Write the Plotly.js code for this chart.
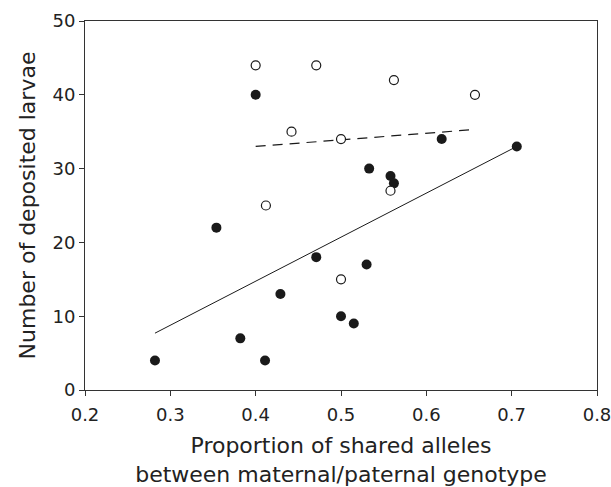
<!DOCTYPE html>
<html>
<head>
<meta charset="utf-8">
<script src="https://cdn.plot.ly/plotly-3.0.1.min.js"></script>
<style>html,body{margin:0;padding:0;background:#fff;}#chart{width:611px;height:487px;}</style>
</head>
<body>
<div id="chart"></div>
<script>
// Filled circles
var filledX = [0.282, 0.354, 0.382, 0.400, 0.411, 0.429, 0.471, 0.500, 0.515, 0.530, 0.533, 0.558, 0.562, 0.618, 0.706];
var filledY = [4, 22, 7, 40, 4, 13, 18, 10, 9, 17, 30, 29, 28, 34, 33];
// Open circles
var openX = [0.400, 0.471, 0.562, 0.657, 0.442, 0.500, 0.412, 0.558, 0.500];
var openY = [44, 44, 42, 40, 35, 34, 25, 27, 15];
// Regression lines (endpoints)
var solidLineX = [0.282, 0.706];
var solidLineY = [7.7, 33.0];
var dashLineX = [0.400, 0.657];
var dashLineY = [33.0, 35.3];

var xTicks = [0.2, 0.3, 0.4, 0.5, 0.6, 0.7, 0.8];
var yTicks = [0, 10, 20, 30, 40, 50];

var ink = '#1a1a1a';
var traces = [
  {x: solidLineX, y: solidLineY, mode: 'lines', line: {color: ink, width: 1}, hoverinfo: 'skip'},
  {x: dashLineX, y: dashLineY, mode: 'lines', line: {color: ink, width: 1.2, dash: '10px,7px'}, hoverinfo: 'skip'},
  {x: filledX, y: filledY, mode: 'markers', marker: {color: ink, size: 10, line: {width: 0}}},
  {x: openX, y: openY, mode: 'markers', marker: {color: '#ffffff', size: 9, line: {color: ink, width: 1.2}}}
];

var fam = 'DejaVu Sans, Arial, sans-serif';
var layout = {
  width: 611, height: 487,
  margin: {l: 85, r: 14, t: 21, b: 97},
  showlegend: false,
  paper_bgcolor: '#fff', plot_bgcolor: '#fff',
  font: {family: fam, size: 18, color: '#222'},
  xaxis: {
    range: [0.2, 0.8], tickvals: xTicks, ticktext: xTicks.map(function(v){return v.toFixed(1);}),
    showgrid: false, zeroline: false, showline: true, mirror: true, linecolor: '#333', linewidth: 1,
    ticks: 'outside', ticklen: 5, tickcolor: '#333', tickfont: {family: fam, size: 18, color: '#222'},
    ticklabelstandoff: 3, ticklabeloverflow: 'allow',
    title: {text: 'Proportion of shared alleles<br>between maternal/paternal genotype', font: {family: fam, size: 22, color: '#222'}, standoff: 14}
  },
  yaxis: {
    range: [0, 50], tickvals: yTicks,
    showgrid: false, zeroline: false, showline: true, mirror: true, linecolor: '#333', linewidth: 1,
    ticks: 'outside', ticklen: 5, tickcolor: '#333', tickfont: {family: fam, size: 18, color: '#222'},
    title: {text: 'Number of deposited larvae', font: {family: fam, size: 22, color: '#222'}, standoff: 10}
  }
};
Plotly.newPlot('chart', traces, layout, {displayModeBar: false, staticPlot: true});
</script>
</body>
</html>
